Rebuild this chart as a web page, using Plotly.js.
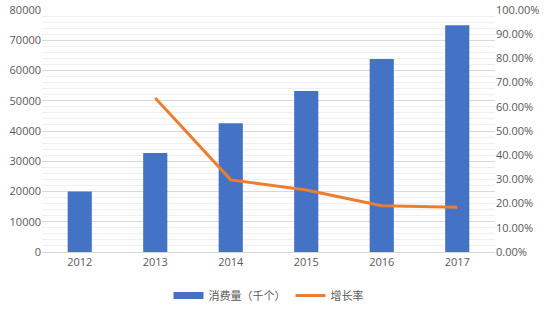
<!DOCTYPE html>
<html><head><meta charset="utf-8">
<script src="https://cdn.plot.ly/plotly-3.0.1.min.js"></script>
<style>html,body{margin:0;padding:0;background:#fff}#c{width:544px;height:311px}</style>
</head><body><div id="c"></div>
<script>
const years = ['2012','2013','2014','2015','2016','2017'];
const consumption = [20000, 32700, 42600, 53200, 63800, 75000];
const growthYears = ['2013','2014','2015','2016','2017'];
const growthRate = [0.636, 0.298, 0.256, 0.191, 0.185];
const barName = '消费量（千个）';
const lineName = '增长率';

const font = {family: '"Open Sans", "Noto Sans CJK SC", sans-serif', size: 11, color: '#595959'};
Plotly.newPlot('c', [
  {type:'bar', x: years, y: consumption, name: barName, marker:{color:'#4472C4'}, yaxis:'y', showlegend:false},
  {type:'scatter', mode:'lines', x: [years[0]], y: [null], name: barName, line:{color:'#4472C4', width:7}, yaxis:'y', hoverinfo:'skip'},
  {type:'scatter', mode:'lines', x: growthYears, y: growthRate, name: lineName, line:{color:'#ED7D31', width:3}, yaxis:'y2'}
], {
  width:544, height:311,
  margin:{l:42, r:49, t:10, b:59, autoexpand:false},
  paper_bgcolor:'#fff', plot_bgcolor:'#fff',
  font: font,
  bargap:0.68,
  showlegend:true,
  legend:{orientation:'h', x:0.5, xanchor:'center', y:-0.18, yanchor:'middle', itemwidth:30, font:{family:'"Noto Sans CJK SC", sans-serif', size:11, color:'#595959'}},
  xaxis:{type:'category', showgrid:false, zeroline:false, showline:true, linecolor:'#d9d9d9', ticks:'', tickfont:font},
  yaxis:{range:[0,80000], dtick:10000, tickformat:'d', showgrid:true, gridcolor:'#d9d9d9', zeroline:false, tickfont:font, ticks:'',
         minor:{dtick:2000, showgrid:true, gridcolor:'#efefef'}},
  yaxis2:{overlaying:'y', side:'right', range:[0,1], dtick:0.1, tickformat:'.2%', showgrid:false, zeroline:false, tickfont:font, ticks:''}
}, {staticPlot:true});
</script></body></html>
